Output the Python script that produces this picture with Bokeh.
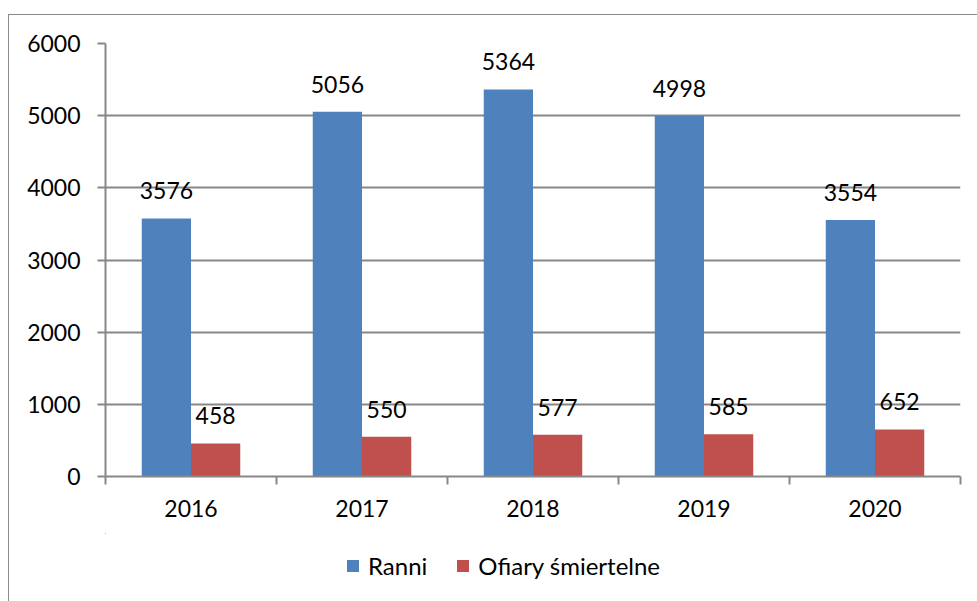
from bokeh.plotting import figure
from bokeh.models import ColumnDataSource, FixedTicker, Legend, LegendItem, Range1d
from bokeh.layouts import column
from bokeh.core.properties import value
from bokeh.embed import file_html
from bokeh.resources import INLINE

years = ["2016", "2017", "2018", "2019", "2020"]
ranni = [3576, 5056, 5364, 4998, 3554]
ofiary = [458, 550, 577, 585, 652]
y_ticks = [0, 1000, 2000, 3000, 4000, 5000, 6000]
series = ["Ranni", "Ofiary śmiertelne"]

BLUE = "#4F81BD"
RED = "#C0504D"
GRID = "#878787"
FONT = "Lato"
FS = "23px"
BW = 0.288

pos = list(range(len(years)))
src = ColumnDataSource(dict(
    xb=[i + 0.5 - BW / 2 for i in pos],
    xr=[i + 0.5 + BW / 2 for i in pos],
    ranni=ranni, ofiary=ofiary,
    lr=[str(v) for v in ranni], lo=[str(v) for v in ofiary],
))

W = 969
p = figure(width=W, height=518, output_backend="svg", toolbar_location=None,
           x_range=Range1d(0, len(years)), y_range=Range1d(0, 6000),
           min_border_left=96, min_border_right=18, min_border_top=28, min_border_bottom=57)
p.outline_line_color = None
p.background_fill_color = "white"
p.border_fill_color = "white"

p.xgrid.visible = False
p.ygrid.grid_line_color = GRID
p.ygrid.grid_line_width = 2
p.ygrid.ticker = FixedTicker(ticks=y_ticks)

# y axis
p.yaxis.ticker = FixedTicker(ticks=y_ticks)
p.yaxis.axis_line_color = GRID
p.yaxis.axis_line_width = 2
p.yaxis.major_tick_line_color = GRID
p.yaxis.major_tick_line_width = 2
p.yaxis.major_tick_out = 8
p.yaxis.major_tick_in = 0
p.yaxis.minor_tick_line_color = None
p.yaxis.major_label_standoff = 17
p.yaxis.major_label_text_font = FONT
p.yaxis.major_label_text_font_size = FS
p.yaxis.major_label_text_color = "black"

# x axis
p.xaxis.ticker = FixedTicker(ticks=[i + 0.5 for i in pos], minor_ticks=list(range(len(years) + 1)))
p.xaxis.major_label_overrides = {i + 0.5: y for i, y in zip(pos, years)}
p.xaxis.axis_line_color = GRID
p.xaxis.axis_line_width = 2
p.xaxis.major_tick_line_color = None
p.xaxis.major_tick_out = 0
p.xaxis.major_tick_in = 0
p.xaxis.minor_tick_line_color = GRID
p.xaxis.minor_tick_line_width = 2
p.xaxis.minor_tick_out = 8
p.xaxis.minor_tick_in = 0
p.xaxis.major_label_standoff = 15
p.xaxis.major_label_text_font = FONT
p.xaxis.major_label_text_font_size = FS
p.xaxis.major_label_text_color = "black"

p.vbar(x="xb", top="ranni", width=BW, source=src, fill_color=BLUE, line_color=None)
p.vbar(x="xr", top="ofiary", width=BW, source=src, fill_color=RED, line_color=None)

p.text(x="xb", y="ranni", text="lr", source=src, text_align="center", text_baseline="bottom",
       y_offset=-19, text_font=value(FONT), text_font_size=FS, text_color="black")
p.text(x="xr", y="ofiary", text="lo", source=src, text_align="center", text_baseline="bottom",
       y_offset=-19, text_font=value(FONT), text_font_size=FS, text_color="black")

# legend strip (its frame is aligned with the main frame by the column layout);
# its zero-height bars draw nothing, they only feed the legend swatches
lf = figure(width=W, height=69, output_backend="svg", toolbar_location=None,
            x_range=Range1d(100, 105), y_range=Range1d(-20000, -10000),
            min_border_left=0, min_border_right=18, min_border_top=0, min_border_bottom=0)
lf.axis.visible = False
lf.grid.visible = False
lf.outline_line_color = None
lf.background_fill_color = "white"
lf.border_fill_color = "white"
lb = lf.vbar(x="xb", top="ranni", bottom="ranni", width=BW, source=src, fill_color=BLUE, line_color=None)
lr = lf.vbar(x="xr", top="ofiary", bottom="ofiary", width=BW, source=src, fill_color=RED, line_color=None)

legend = Legend(items=[LegendItem(label=series[0], renderers=[lb]),
                       LegendItem(label=series[1], renderers=[lr])],
                orientation="horizontal", location=(240, 22))
legend.glyph_width = 15
legend.glyph_height = 15
legend.label_standoff = 8
legend.spacing = 28
legend.padding = 0
legend.margin = 0
legend.border_line_color = None
legend.background_fill_alpha = 0
legend.label_text_font = FONT
legend.label_text_font_size = "24px"
legend.label_text_color = "black"
lf.add_layout(legend, "center")

layout = column(p, lf, spacing=0)
layout.margin = (14, 0, 0, 8)
layout.styles = {"border-left": "1px solid #8a8a8a", "border-top": "1px solid #8a8a8a",
                 "background": "white"}

open("out.html", "w").write(file_html(layout, INLINE))
